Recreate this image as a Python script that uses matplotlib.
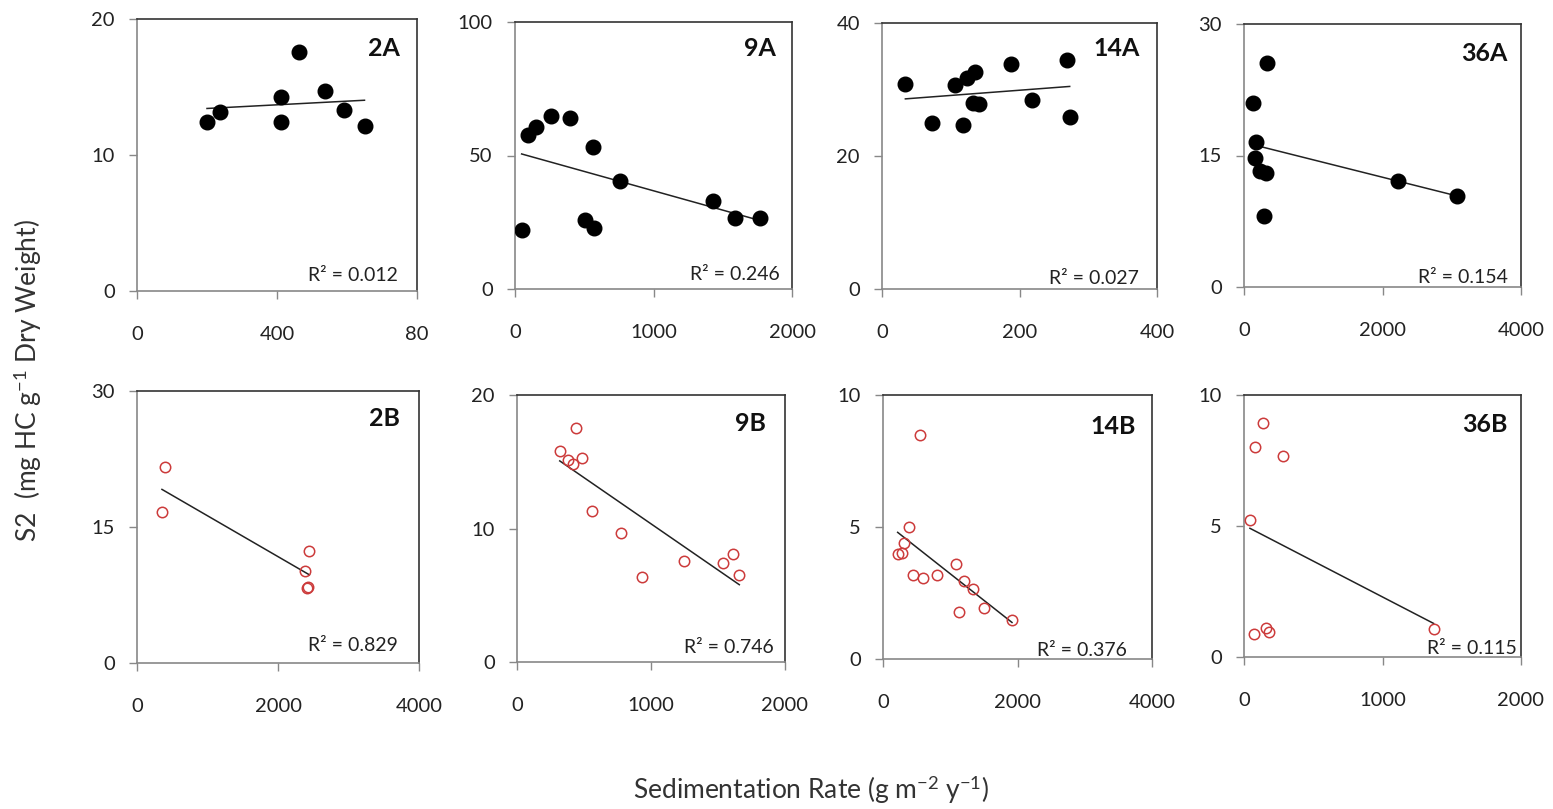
import numpy as np
import matplotlib
matplotlib.use('Agg')
import matplotlib.pyplot as plt

plt.rcParams['font.family'] = ['Lato', 'DejaVu Sans']
plt.rcParams['mathtext.fontset'] = 'custom'
plt.rcParams['mathtext.rm'] = 'Lato'
plt.rcParams['mathtext.it'] = 'Lato:italic'
plt.rcParams['mathtext.bf'] = 'Lato:bold'

# data (sedimentation rate, S2)
x_2A = [200, 238, 410, 410, 462, 536, 590, 650]
y_2A = [12.4, 13.15, 14.3, 12.4, 17.55, 14.67, 13.3, 12.15]

x_9A = [48, 96, 152, 260, 398, 506, 566, 573, 759, 1429, 1586, 1771]
y_9A = [22.2, 57.7, 60.6, 64.7, 64.1, 25.9, 53.0, 22.8, 40.5, 32.8, 26.5, 26.5]

x_14A = [34, 73, 106, 118, 123, 132, 135, 141, 187, 218, 269, 273]
y_14A = [30.9, 25.0, 30.75, 24.6, 31.8, 27.9, 32.6, 27.8, 33.9, 28.4, 34.5, 25.9]

x_36A = [125, 159, 173, 231, 294, 313, 337, 2231, 3075]
y_36A = [21.0, 14.7, 16.5, 13.25, 8.1, 13.0, 25.6, 12.1, 10.4]

x_2B = [354, 392, 2384, 2417, 2430, 2446]
y_2B = [16.6, 21.6, 10.2, 8.3, 8.4, 12.4]

x_9B = [319, 381, 418, 438, 485, 560, 777, 931, 1245, 1534, 1614, 1659]
y_9B = [15.8, 15.1, 14.8, 17.5, 15.3, 11.3, 9.7, 6.4, 7.6, 7.4, 8.1, 6.55]

x_14B = [218, 282, 307, 382, 446, 555, 590, 803, 1090, 1135, 1199, 1333, 1506, 1918]
y_14B = [3.97, 4.03, 4.39, 4.99, 3.17, 8.5, 3.08, 3.17, 3.6, 1.77, 2.97, 2.64, 1.93, 1.46]

x_36B = [43, 72, 80, 135, 159, 183, 280, 1369]
y_36B = [5.24, 0.86, 8.03, 8.92, 1.12, 0.97, 7.69, 1.05]

names = ['2A', '9A', '14A', '36A', '2B', '9B', '14B', '36B']
r2_values = ['0.012', '0.246', '0.027', '0.154', '0.829', '0.746', '0.376', '0.115']
x_max = [800, 2000, 400, 4000, 4000, 2000, 4000, 2000]
y_max = [20, 100, 40, 30, 30, 20, 10, 10]
x_ticklabels = [['0', '400', '80'], ['0', '1000', '2000'], ['0', '200', '400'],
                ['0', '2000', '4000'], ['0', '2000', '4000'], ['0', '1000', '2000'],
                ['0', '2000', '4000'], ['0', '1000', '2000']]
xs = [x_2A, x_9A, x_14A, x_36A, x_2B, x_9B, x_14B, x_36B]
ys = [y_2A, y_9A, y_14A, y_36A, y_2B, y_9B, y_14B, y_36B]

# axes boxes in pixels (x0, y0, x1, y1 from top-left)
W, H = 1553, 809
boxes = [(137, 19, 417, 291), (515, 22, 792, 289), (882, 23, 1157, 289), (1244, 24, 1521, 287),
         (137, 391, 419, 663), (517, 395, 785, 662), (883, 395, 1152, 659), (1244, 395, 1521, 657)]
r2_pos = [(0.932, 0.038), (0.957, 0.034), (0.935, 0.02), (0.953, 0.015),
          (0.926, 0.044), (0.959, 0.034), (0.907, 0.011), (0.985, 0.01)]
name_pos = [(0.94, 0.934), (0.942, 0.944), (0.938, 0.947), (0.953, 0.93),
            (0.933, 0.94), (0.929, 0.936), (0.94, 0.924), (0.953, 0.931)]

fig = plt.figure(figsize=(W / 100, H / 100), dpi=100)

for i in range(8):
    x0, y0, x1, y1 = boxes[i]
    ax = fig.add_axes([x0 / W, 1 - y1 / H, (x1 - x0) / W, (y1 - y0) / H])
    x = np.array(xs[i], dtype=float)
    y = np.array(ys[i], dtype=float)
    if i < 4:
        ax.plot(x, y, 'o', color='black', markersize=10.5, zorder=3)
    else:
        ax.plot(x, y, 'o', markerfacecolor='none', markeredgecolor='#cc3b3b',
                markersize=7.5, markeredgewidth=1.1, zorder=3)
    # linear trend line
    k, b = np.polyfit(x, y, 1)
    xx = np.array([x.min(), x.max()])
    ax.plot(xx, k * xx + b, color='#222222', linewidth=1.1, zorder=2)

    ax.set_xlim(0, x_max[i])
    ax.set_ylim(0, y_max[i])
    ax.set_xticks([0, x_max[i] / 2, x_max[i]])
    ax.set_xticklabels(x_ticklabels[i])
    ax.set_yticks([0, y_max[i] / 2, y_max[i]])
    ax.set_yticklabels([str(int(v)) for v in [0, y_max[i] / 2, y_max[i]]])
    ax.tick_params(axis='x', direction='out', length=5.5, width=1, color='#888888',
                   pad=20, labelsize=14.5, labelcolor='#222222')
    ax.tick_params(axis='y', direction='out', length=6, width=1, color='#888888',
                   pad=10, labelsize=14.5, labelcolor='#222222')
    for s in ['left', 'bottom']:
        ax.spines[s].set_color('#888888')
        ax.spines[s].set_linewidth(1.2)
    for s in ['top', 'right']:
        ax.spines[s].set_color('#333333')
        ax.spines[s].set_linewidth(1.2)

    ax.text(name_pos[i][0], name_pos[i][1], names[i], transform=ax.transAxes,
            ha='right', va='top', fontsize=18, fontweight='bold', color='#111111')
    ax.text(r2_pos[i][0], r2_pos[i][1], 'R² = ' + r2_values[i], transform=ax.transAxes,
            ha='right', va='baseline', fontsize=14, color='#222222')

fig.text(0.522, 0.024, r'Sedimentation Rate (g m$^{-2}$ y$^{-1}$)',
         ha='center', va='center', fontsize=19, color='#333333')
fig.text(0.018, 0.53, r'S2  (mg HC g$^{-1}$ Dry Weight)', rotation=90,
         ha='center', va='center', fontsize=19, color='#333333')

fig.savefig('out.png', dpi=100)
